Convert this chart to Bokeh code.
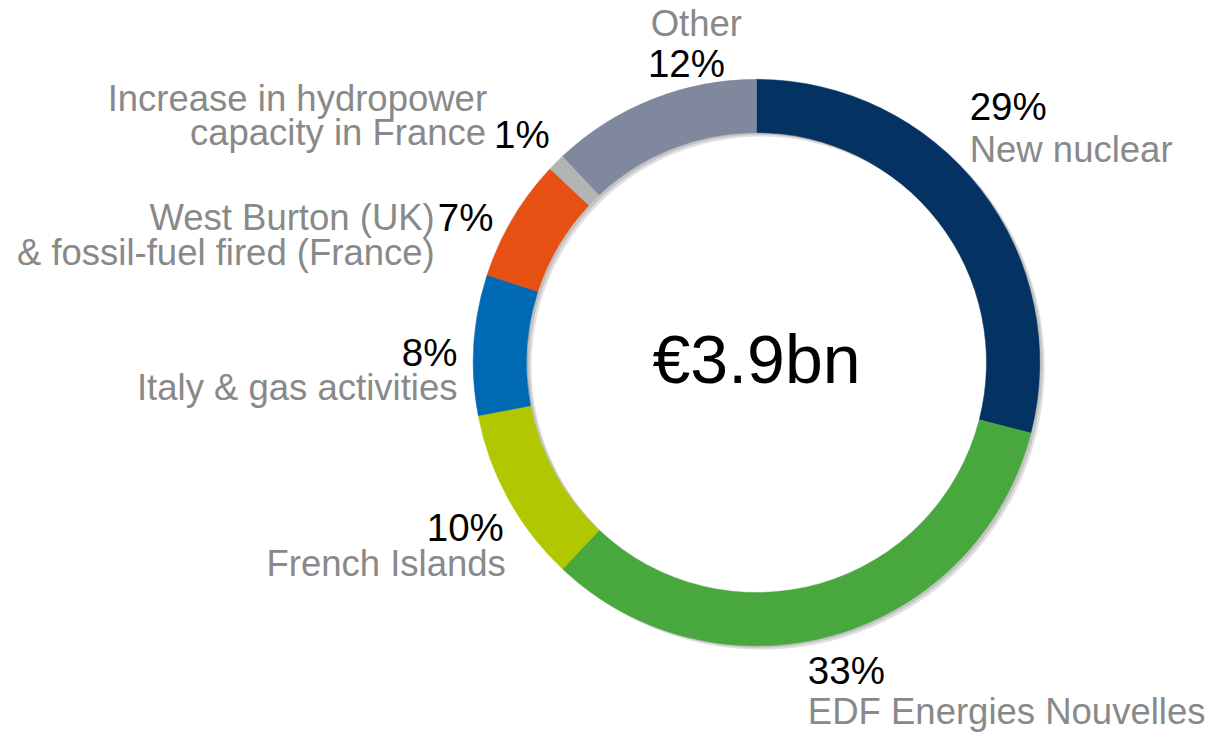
import numpy as np
from bokeh.plotting import figure
from bokeh.models import Range1d
from bokeh.core.properties import value
from bokeh.embed import file_html
from bokeh.resources import INLINE

# ---- data ----
categories = ["New nuclear", "EDF Energies Nouvelles", "French Islands",
              "Italy & gas activities", "West Burton (UK)\n& fossil-fuel fired (France)",
              "Increase in hydropower\ncapacity in France", "Other"]
shares = [29, 33, 10, 8, 7, 1, 12]
pct_labels = ["29%", "33%", "10%", "8%", "7%", "1%", "12%"]
colors = ["#033263", "#48a83e", "#b1c700", "#0069b3", "#e65113", "#b2b4b5", "#80889e"]
total_label = "€3.9bn"

W, H = 1212, 733
p = figure(width=W, height=H, output_backend="svg", toolbar_location=None,
           x_range=Range1d(0, 1228), y_range=Range1d(-749, 0),
           min_border=0, outline_line_color=None, background_fill_color="white")
p.axis.visible = False
p.grid.visible = False

cx, cy = 766, -370
r_in, r_out = 233, 287

vals = np.array(shares, dtype=float)
frac = vals / vals.sum()
cum_end = np.cumsum(frac)
cum_start = cum_end - frac
start_ang = np.pi / 2 - cum_end * 2 * np.pi
end_ang = np.pi / 2 - cum_start * 2 * np.pi

# soft shadow
p.annulus(x=cx + 5, y=cy - 4, inner_radius=r_in, outer_radius=r_out,
          fill_color="#000000", fill_alpha=0.12, line_color=None)
p.annulus(x=cx + 3, y=cy - 2, inner_radius=r_in, outer_radius=r_out,
          fill_color="#000000", fill_alpha=0.12, line_color=None)

p.annular_wedge(x=cx, y=cy, inner_radius=r_in, outer_radius=r_out,
                start_angle=start_ang, end_angle=end_ang,
                fill_color=colors, line_color=colors, line_width=0.5)

FONT = value("Liberation Sans")
GRAY = "#898989"

def txt(x, y, s, size, color, align="left"):
    p.text(x=[x], y=[-y], text=[s], text_font=FONT, text_font_size=value(f"{size}px"),
           text_color=color, text_align=align, text_baseline="middle")

# centre total
txt(766, 366, total_label, 68, "black", "center")

names = [c.split("\n") for c in categories]
BK = 38.5
GS = 36.5
# New nuclear
txt(982, 108, pct_labels[0], BK, "black")
txt(982, 152, names[0][0], GS, GRAY)
# EDF EN
txt(818, 685, pct_labels[1], BK, "black")
txt(818, 727, names[1][0], GS, GRAY)
# French Islands
txt(510, 538, pct_labels[2], BK, "black", "right")
txt(512, 575, names[2][0], GS, GRAY, "right")
# Italy
txt(463, 360, pct_labels[3], BK, "black", "right")
txt(463, 395, names[3][0], GS, GRAY, "right")
# West Burton
txt(440, 222, names[4][0], GS, GRAY, "right")
txt(443, 222, pct_labels[4], BK, "black")
txt(440, 258, names[4][1], GS, GRAY, "right")
# hydro
txt(493, 100, names[5][0], GS, GRAY, "right")
txt(492, 135, names[5][1], GS, GRAY, "right")
txt(500, 137, pct_labels[5], BK, "black")
# Other
txt(705, 24, names[6][0], GS, GRAY, "center")
txt(695, 64, pct_labels[6], BK, "black", "center")

open("out.html", "w").write(file_html(p, INLINE))
